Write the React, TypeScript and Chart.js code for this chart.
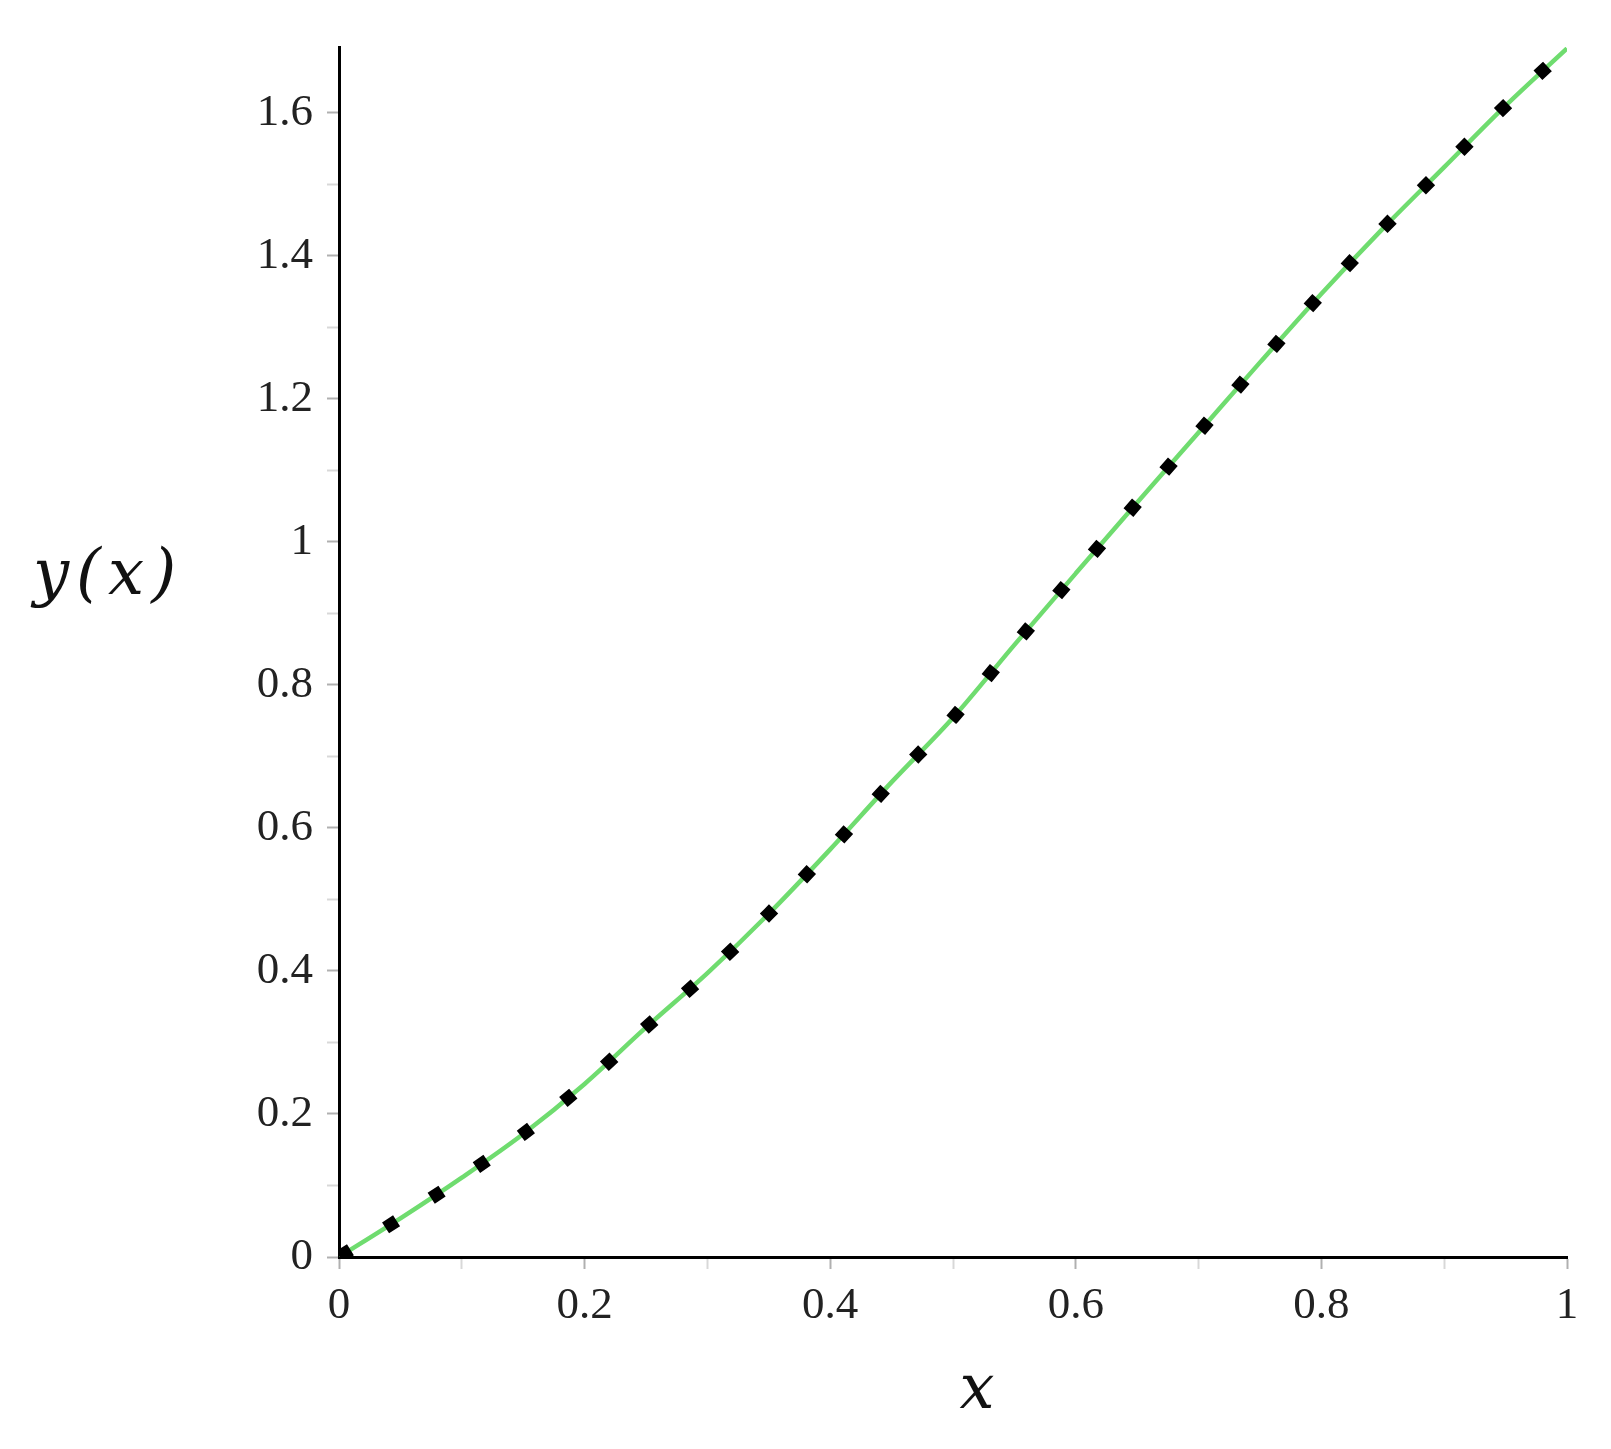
import React, { useEffect, useRef } from "react";
import { Chart, registerables } from "chart.js";

Chart.register(...registerables);

const xValues = [0, 0.05, 0.1, 0.15, 0.2, 0.25, 0.3, 0.35, 0.4, 0.45, 0.5, 0.55, 0.6, 0.65, 0.7, 0.75, 0.8, 0.85, 0.9, 0.95, 1.0];
const yValues = [0, 0.054, 0.111, 0.172, 0.242, 0.321, 0.397, 0.48, 0.57, 0.664, 0.754, 0.856, 0.956, 1.055, 1.153, 1.251, 1.347, 1.438, 1.524, 1.61, 1.69];

const xTickValues = [0, 0.1, 0.2, 0.3, 0.4, 0.5, 0.6, 0.7, 0.8, 0.9, 1.0];
const yTickValues = [0, 0.1, 0.2, 0.3, 0.4, 0.5, 0.6, 0.7, 0.8, 0.9, 1.0, 1.1, 1.2, 1.3, 1.4, 1.5, 1.6];

const xTitle = "x";
const yTitle = "y(x)";

function fmt(v: number): string {
  const r = Math.round(v * 10);
  if (r % 2 !== 0) return "";
  if (r % 10 === 0) return String(r / 10);
  return (r / 10).toFixed(1);
}

const titlesPlugin = {
  id: "titles",
  afterDraw(chart: any) {
    const ctx = chart.ctx;
    ctx.save();
    ctx.fillStyle = "#111";
    ctx.textAlign = "center";
    ctx.textBaseline = "middle";
    ctx.font = "italic 64px 'DejaVu Serif'";
    try { (ctx as any).letterSpacing = "7px"; } catch (e) {}
    ctx.fillText(yTitle, 108, 577);
    ctx.font = "italic 62px 'DejaVu Serif'";
    try { (ctx as any).letterSpacing = "0px"; } catch (e) {}
    ctx.fillText(xTitle, 977, 1392);
    ctx.restore();
  },
};

export default function App() {
  const ref = useRef<HTMLCanvasElement | null>(null);
  useEffect(() => {
    if (!ref.current) return;
    const pts = xValues.map((x, i) => ({ x, y: yValues[i] }));
    const chart = new Chart(ref.current, {
      type: "line",
      data: {
        datasets: [
          {
            data: pts,
            borderColor: "#000",
            borderWidth: 13,
            borderDash: [13, 41.5],
            borderDashOffset: 54,
            borderCapStyle: "butt",
            pointRadius: 0,
            cubicInterpolationMode: "monotone",
            fill: false,
          },
          {
            data: pts,
            borderColor: "#6fdc6f",
            borderWidth: 4.5,
            pointRadius: 0,
            cubicInterpolationMode: "monotone",
            fill: false,
          },
        ],
      },
      options: {
        animation: false,
        responsive: true,
        maintainAspectRatio: false,
        layout: { padding: { top: 47, right: 44, left: 0, bottom: 0 } },
        plugins: { legend: { display: false }, tooltip: { enabled: false } },
        scales: {
          x: {
            type: "linear",
            min: 0,
            max: 1,
            afterBuildTicks: (s: any) => {
              s.ticks = xTickValues.map((v) => ({ value: v }));
            },
            afterFit: (s: any) => {
              s.height = 192;
            },
            grid: {
              drawOnChartArea: false,
              drawTicks: true,
              tickLength: 12,
              tickWidth: 2,
              tickColor: (c: any) => (c.index % 2 ? "#d8d8d8" : "#b0b0b0"),
            },
            border: { display: true, color: "#000", width: 3 },
            ticks: {
              autoSkip: false,
              maxRotation: 0,
              padding: 10,
              color: "#222",
              font: { family: "'Liberation Serif'", size: 45 },
              callback: (v: any) => fmt(Number(v)),
            },
          },
          y: {
            type: "linear",
            min: 0,
            max: 1.692,
            afterBuildTicks: (s: any) => {
              s.ticks = yTickValues.map((v) => ({ value: v }));
            },
            afterFit: (s: any) => {
              s.width = 339;
            },
            grid: {
              drawOnChartArea: false,
              drawTicks: true,
              tickLength: 12,
              tickWidth: 2,
              tickColor: (c: any) => (c.index % 2 ? "#d8d8d8" : "#b0b0b0"),
            },
            border: { display: true, color: "#000", width: 3 },
            ticks: {
              autoSkip: false,
              padding: 14,
              color: "#222",
              font: { family: "'Liberation Serif'", size: 45 },
              callback: (v: any) => fmt(Number(v)),
            },
          },
        },
      },
      plugins: [titlesPlugin],
    } as any);
    return () => chart.destroy();
  }, []);
  return (
    <div style={{ position: "absolute", left: 0, top: 0, width: 1611, height: 1449, background: "#fff" }}>
      <canvas ref={ref} />
    </div>
  );
}
